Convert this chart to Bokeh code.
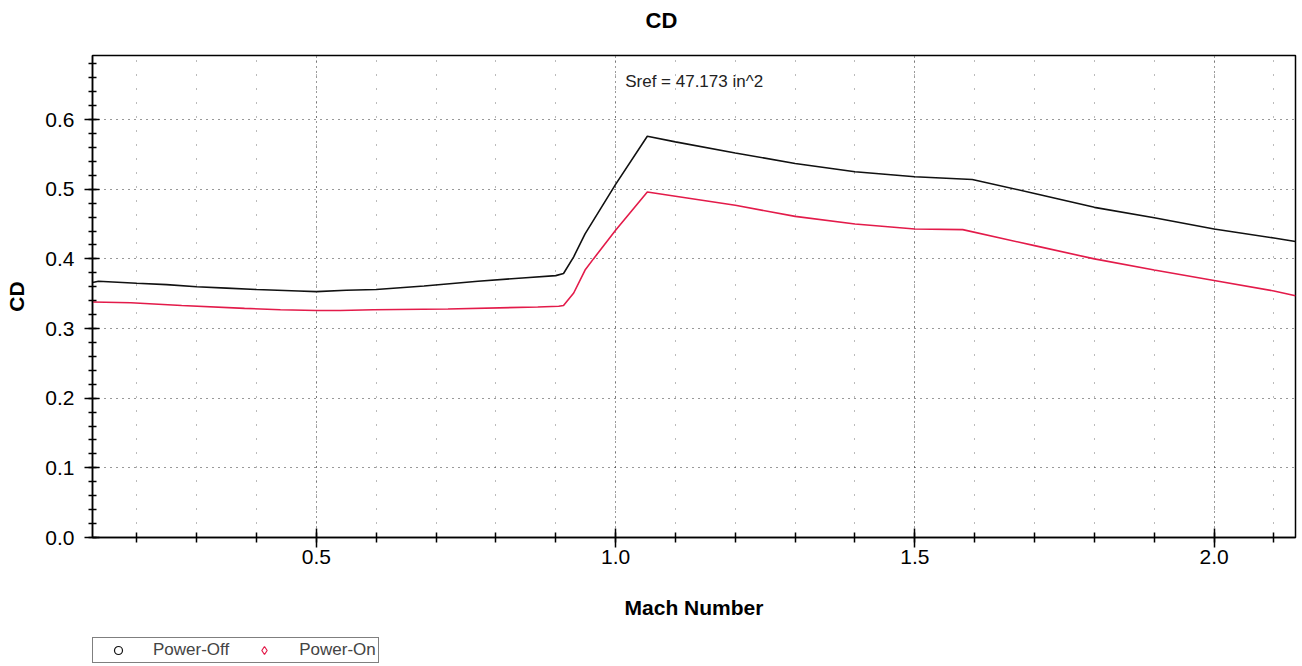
from bokeh.plotting import figure
from bokeh.layouts import column
from bokeh.models import (Range1d, FixedTicker, NumeralTickFormatter, Label, Legend, LegendItem)
from bokeh.embed import file_html
from bokeh.resources import INLINE

FONT = "Liberation Sans"
NAN = float("nan")

# Power-Off curve (Mach, CD)
mach_off = [0.126, 0.136, 0.20, 0.25, 0.30, 0.35, 0.40, 0.47, 0.50, 0.55, 0.60, 0.68, 0.77,
            0.85, 0.90, 0.913, 0.93, 0.949, 1.00, 1.053, 1.10, 1.20, 1.30, 1.40, 1.50, 1.596,
            1.70, 1.80, 1.90, 2.00, 2.10, 2.136]
cd_off = [0.366, 0.368, 0.365, 0.363, 0.360, 0.358, 0.356, 0.354, 0.353, 0.355, 0.356, 0.361, 0.368,
          0.373, 0.376, 0.379, 0.403, 0.436, 0.507, 0.576, 0.568, 0.552, 0.537, 0.525, 0.518, 0.514,
          0.494, 0.474, 0.459, 0.443, 0.430, 0.425]

# Power-On curve (Mach, CD)
mach_on = [0.126, 0.19, 0.275, 0.38, 0.44, 0.50, 0.54, 0.595, 0.72, 0.87, 0.905, 0.913, 0.93,
           0.949, 0.963, 1.00, 1.053, 1.10, 1.20, 1.30, 1.40, 1.50, 1.58, 1.70, 1.80, 1.90,
           2.00, 2.10, 2.136]
cd_on = [0.338, 0.337, 0.333, 0.329, 0.327, 0.326, 0.326, 0.327, 0.328, 0.331, 0.332, 0.333, 0.351,
         0.384, 0.400, 0.441, 0.496, 0.490, 0.477, 0.461, 0.450, 0.443, 0.442, 0.419, 0.400, 0.384,
         0.369, 0.354, 0.347]

x_major = [0.5, 1.0, 1.5, 2.0]
x_minor = [round(0.2 + 0.1 * i, 2) for i in range(20)]
y_major = [0.0, 0.1, 0.2, 0.3, 0.4, 0.5, 0.6]
y_minor = [round(0.02 * i, 2) for i in range(35)]

title_text = "CD"
series_names = ["Power-Off", "Power-On"]
series_colors = ["#111111", "#e31b4a"]
annotation_text = "Sref = 47.173 in^2"

# ---- title strip (frame aligned with main chart frame by the column layout) ----
tp = figure(width=1302, height=40, output_backend="svg", toolbar_location=None,
            x_range=Range1d(0, 1), y_range=Range1d(0, 1), min_border=0,
            x_axis_location=None, y_axis_location=None, outline_line_color=None)
tp.grid.visible = False
tp.add_layout(Label(x=569, y=20, x_units="screen", y_units="screen", text=title_text,
                    text_font=FONT, text_font_size="22px", text_font_style="bold",
                    text_align="center", text_baseline="middle", text_color="black"))

# ---- main chart ----
p = figure(width=1302, height=596, output_backend="svg", toolbar_location=None,
           x_range=Range1d(0.126, 2.136), y_range=Range1d(0.0, 0.692),
           min_border_left=92, min_border_right=7, min_border_top=15, min_border_bottom=99)

p.outline_line_color = "black"
p.outline_line_width = 1.5
p.background_fill_color = "white"
p.border_fill_color = "white"

l1 = p.line(mach_off, cd_off, line_color=series_colors[0], line_width=1.6)
l2 = p.line(mach_on, cd_on, line_color=series_colors[1], line_width=1.6)

for ax in (p.xaxis[0], p.yaxis[0]):
    ax.axis_line_color = "black"
    ax.axis_line_width = 1.5
    ax.major_tick_line_color = "black"
    ax.minor_tick_line_color = "black"
    ax.major_tick_line_width = 1.5
    ax.minor_tick_line_width = 1.5
    ax.major_label_text_font = FONT
    ax.major_label_text_font_size = "21px"
    ax.major_label_text_color = "black"
    ax.axis_label_text_font = FONT
    ax.axis_label_text_font_size = "21px"
    ax.axis_label_text_font_style = "bold"
    ax.axis_label_text_color = "black"
    ax.formatter = NumeralTickFormatter(format="0.0")

p.xaxis.ticker = FixedTicker(ticks=x_major, minor_ticks=x_minor)
p.yaxis.ticker = FixedTicker(ticks=y_major, minor_ticks=y_minor)
p.xaxis.axis_label = "Mach Number"
p.yaxis.axis_label = "CD"
p.xaxis.major_tick_in = 9
p.xaxis.major_tick_out = 10
p.xaxis.minor_tick_in = 5
p.xaxis.minor_tick_out = 5
p.yaxis.major_tick_in = 7
p.yaxis.major_tick_out = 8
p.yaxis.minor_tick_in = 4
p.yaxis.minor_tick_out = 4
p.xaxis.major_label_standoff = 2
p.xaxis.axis_label_standoff = 29
p.yaxis.major_label_standoff = 10
p.yaxis.axis_label_standoff = 14

p.xgrid.grid_line_color = "#333333"
p.xgrid.grid_line_dash = "1 4"
p.xgrid.grid_line_width = 1
p.xgrid.minor_grid_line_color = "#777777"
p.xgrid.minor_grid_line_dash = "1 13"
p.ygrid.grid_line_color = "#333333"
p.ygrid.grid_line_dash = "1 5"
p.ygrid.grid_line_width = 1

p.add_layout(Label(x=1.016, y=0.654, text=annotation_text, text_font=FONT, text_font_size="17px",
                   text_baseline="middle", text_color="#222222"))

# ---- legend strip ----
lg = figure(width=1302, height=30, output_backend="svg", toolbar_location=None,
            x_range=Range1d(0, 1), y_range=Range1d(0, 1), min_border=0,
            x_axis_location=None, y_axis_location=None, outline_line_color=None)
lg.grid.visible = False
m1 = lg.scatter([NAN], [NAN], marker="circle", size=9, fill_color=None,
                line_color=series_colors[0], line_width=1.2)
m2 = lg.scatter([NAN], [NAN], marker="diamond", size=13, fill_color=None,
                line_color=series_colors[1], line_width=1.2)
legend = Legend(items=[LegendItem(label=series_names[0], renderers=[m1]),
                       LegendItem(label=series_names[1], renderers=[m2])],
                orientation="horizontal", location=(0, 3), margin=0,
                padding=2, spacing=12, glyph_width=46, glyph_height=20, label_standoff=12,
                label_text_font=FONT, label_text_font_size="17px", label_height=18,
                border_line_color="black", border_line_width=1, background_fill_alpha=1)
lg.add_layout(legend, "center")

open("out.html", "w").write(file_html(column(tp, p, lg, spacing=0), INLINE))
